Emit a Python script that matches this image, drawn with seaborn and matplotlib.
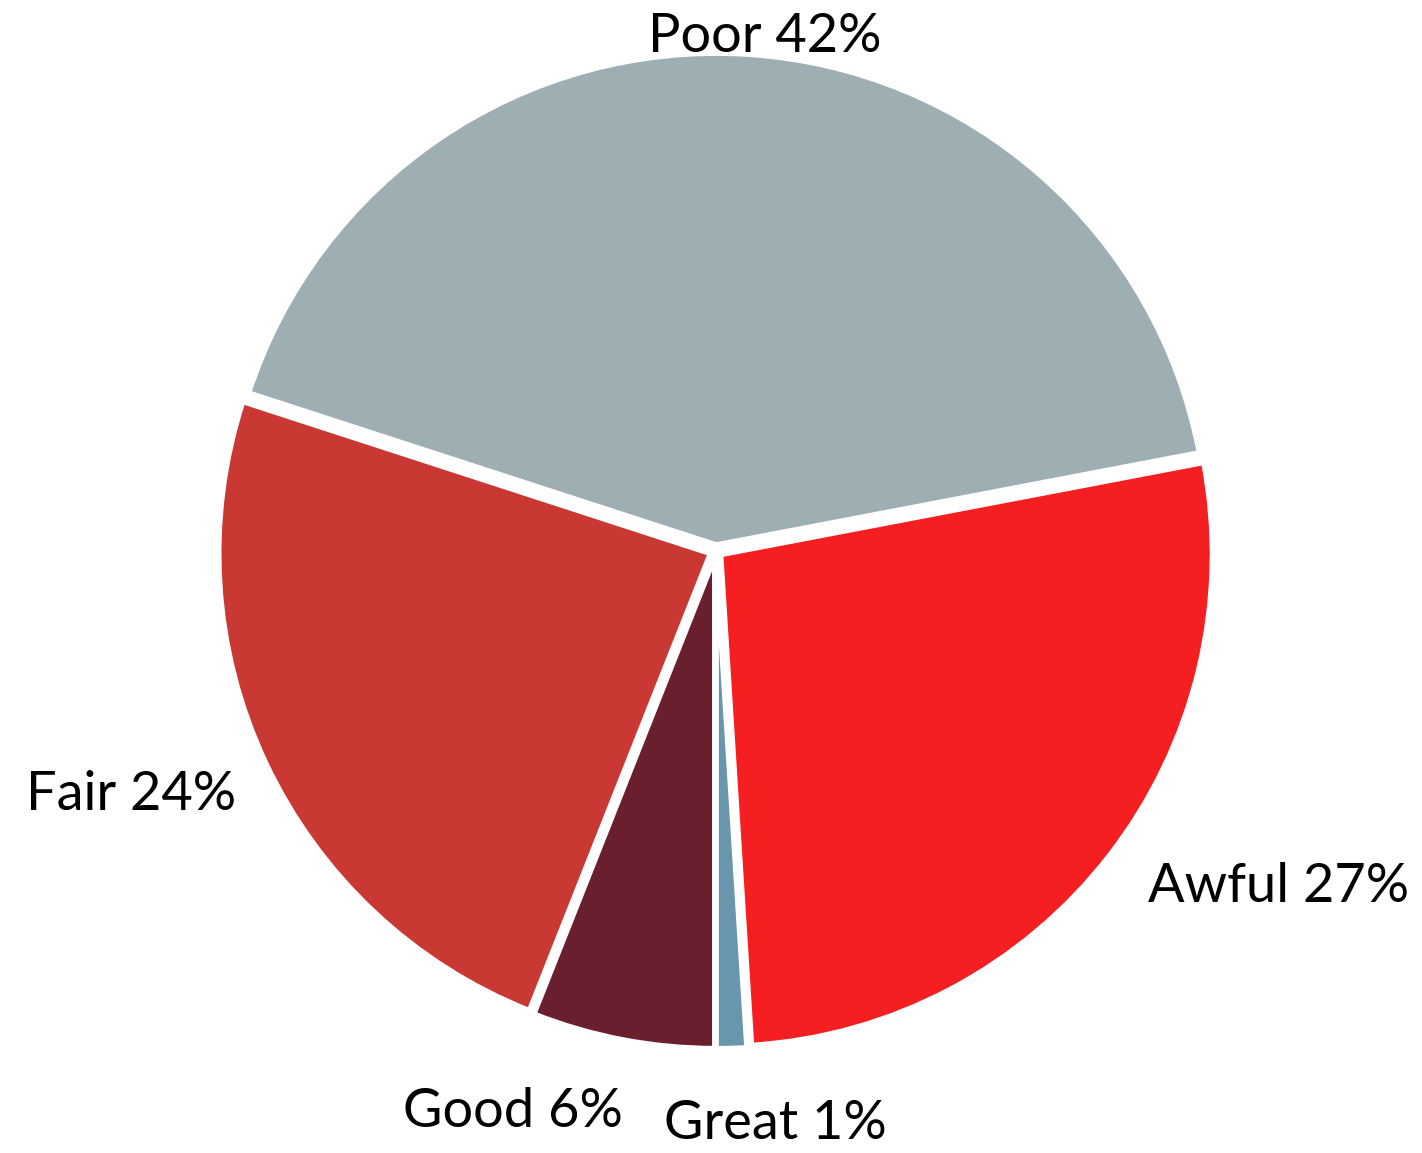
import matplotlib
matplotlib.use("Agg")
import matplotlib.pyplot as plt
import seaborn as sns

# Survey rating shares (percent)
categories = ["Poor", "Awful", "Great", "Good", "Fair"]
shares = [42, 27, 1, 6, 24]
colors = ["#9EAFB4", "#F51E20", "#6796AD", "#6A1F2F", "#C93832"]

sns.set_theme(style="white")
plt.rcParams['font.family'] = ['Lato', 'DejaVu Sans']

fig = plt.figure(figsize=(14.22, 11.53), dpi=100)
ax = fig.add_axes([0, 0, 1, 1])

labels = [f"{c} {s}%" for c, s in zip(categories, shares)]
wedges, texts = ax.pie(
    shares,
    labels=labels,
    colors=colors,
    startangle=162,
    counterclock=False,
    explode=[0.012] * len(shares),
    radius=1.0,
    labeldistance=1.1,
    wedgeprops=dict(edgecolor="white", linewidth=4),
    textprops=dict(fontsize=39, color="black"),
)

# small nudges for the labels that sit off the default spot
texts[0].set_ha("center")
texts[0].set_position((0.10, 1.045))
texts[2].set_ha("left")
texts[2].set_position((-0.105, -1.165))
texts[3].set_position((-0.19, -1.14))
texts[4].set_position((-0.975, -0.495))

ax.set_xlim(-1.455, 1.435)
ax.set_ylim(-1.224, 1.120)
ax.set_aspect("equal")
ax.axis("off")

fig.savefig("out.png", dpi=100, facecolor="white")
